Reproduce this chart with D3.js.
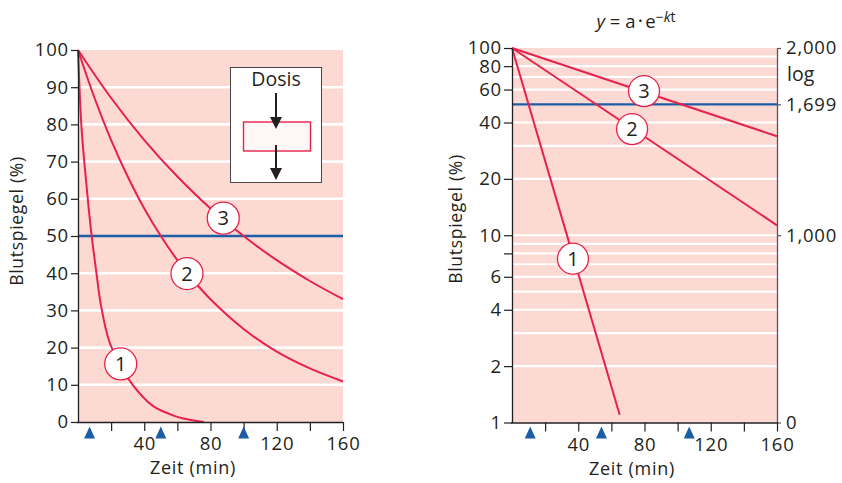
<!DOCTYPE html>
<html>
<head>
<meta charset="utf-8">
<script src="https://cdn.jsdelivr.net/npm/d3@7"></script>
<style>
  html, body { margin: 0; padding: 0; background: #ffffff; }
  svg text { font-family: "Open Sans", "Noto Sans", sans-serif; fill: #231f20; }
</style>
</head>
<body>
<script>
// ---- data ---------------------------------------------------------------
// time axis (minutes)
const timeTicks = [20, 40, 60, 80, 100, 120, 140, 160];
const timeLabels = [40, 80, 120, 160];

// linear panel: blood level (%) over time, three elimination curves
const linTicks = [0, 10, 20, 30, 40, 50, 60, 70, 80, 90, 100];
const linGrid = [10, 20, 30, 40, 60, 70, 80, 90];
const curve1 = [[0, 100], [2, 80], [4, 69], [6, 59.5], [8, 51], [11, 40.5], [14, 31], [19, 21.5], [26, 15], [33, 10], [45, 4.4], [55, 2.2], [63, 1.0], [76, 0]];
const curve2 = [[0, 100], [10, 87.1], [20, 75.8], [30, 66.0], [40, 57.4], [50, 50.0], [60, 43.5], [70, 37.9], [80, 33.0], [100, 25.0], [120, 18.9], [140, 14.4], [160, 10.9]];
const curve3 = [[0, 100], [20, 87.1], [40, 75.8], [60, 66.0], [80, 57.4], [100, 50.0], [120, 43.5], [140, 37.9], [160, 33.0]];
const linBadges = [{ n: "1", t: 25.8, v: 15.6 }, { n: "2", t: 65.8, v: 39.9 }, { n: "3", t: 87.7, v: 54.8 }];
const linHalfTimes = [7, 50, 100];

// logarithmic panel: same three curves on a log axis
const logTicks = [1, 2, 4, 6, 8, 10, 20, 40, 60, 80, 100];
const logTickLabels = ["1", "2", "4", "6", "", "10", "20", "40", "60", "80", "100"];
const logGrid = [2, 3, 4, 5, 6, 7, 8, 9, 10, 20, 30, 40, 60, 70, 80, 90];
const line1 = [[0, 100], [65, 1.1]];
const line2 = [[0, 100], [160, 11.3]];
const line3 = [[0, 100], [160, 33.8]];
const logBadges = [{ n: "1", t: 36.8, v: 7.5 }, { n: "2", t: 72.5, v: 36.9 }, { n: "3", t: 79.7, v: 58.9 }];
const logHalfTimes = [11, 54, 107];
const logAxisValues = [100, 50, 10, 1];
const logAxisLabels = ["2,000", "1,699", "1,000", "0"];

const halfLevel = 50;

// ---- style --------------------------------------------------------------
const PINK = "#fdd9d4";
const RED = "#e8214a";
const BLUE = "#1c5ea6";
const INK = "#231f20";
const TICK_FONT = 18.5;

const svg = d3.select("body").append("svg")
  .attr("width", 842).attr("height", 483);

function styleAxis(g, size) {
  g.selectAll("path.domain").attr("stroke", INK).attr("stroke-width", 1.3);
  g.selectAll(".tick line").attr("stroke", INK).attr("stroke-width", 1.2);
  g.selectAll(".tick text")
    .attr("font-size", size)
    .attr("letter-spacing", "0.8px")
    .style("fill", INK);
}

function badge(g, cx, cy, r, label) {
  g.append("circle").attr("cx", cx).attr("cy", cy).attr("r", r)
    .attr("fill", "#ffffff").attr("stroke", RED).attr("stroke-width", 1.3);
  g.append("text").attr("x", cx).attr("y", cy).attr("dy", "0.36em")
    .attr("text-anchor", "middle").attr("font-size", 20).text(label);
}

function halfMarks(g, xs, times) {
  g.selectAll("path.half").data(times).join("path")
    .attr("class", "half")
    .attr("fill", BLUE)
    .attr("d", t => {
      const cx = xs(t);
      return `M${cx - 5.5},438.5 L${cx},426.5 L${cx + 5.5},438.5 Z`;
    });
}

// ---- left panel: linear scale --------------------------------------------
{
  const x = d3.scaleLinear().domain([0, 160]).range([78, 343]);
  const y = d3.scaleLinear().domain([0, 100]).range([422, 50]);
  const g = svg.append("g");

  g.append("rect").attr("x", x(0)).attr("y", y(100))
    .attr("width", x(160) - x(0)).attr("height", y(0) - y(100)).attr("fill", PINK);

  g.selectAll("line.grid").data(linGrid).join("line")
    .attr("class", "grid")
    .attr("x1", x(0)).attr("x2", x(160))
    .attr("y1", d => y(d)).attr("y2", d => y(d))
    .attr("stroke", "#ffffff").attr("stroke-width", 2.6);

  g.append("line").attr("x1", x(0)).attr("x2", x(160))
    .attr("y1", y(halfLevel)).attr("y2", y(halfLevel))
    .attr("stroke", BLUE).attr("stroke-width", 2.4);

  const line = d3.line().x(d => x(d[0])).y(d => y(d[1])).curve(d3.curveCatmullRom.alpha(0.5));
  g.selectAll("path.curve").data([curve1, curve2, curve3]).join("path")
    .attr("class", "curve")
    .attr("d", line).attr("fill", "none")
    .attr("stroke", RED).attr("stroke-width", 2);

  linBadges.forEach(b => badge(g, x(b.t), y(b.v), 16, b.n));

  // dosing scheme inset
  const inset = g.append("g");
  inset.append("rect").attr("x", 230.5).attr("y", 67.5).attr("width", 91).attr("height", 115)
    .attr("fill", "#ffffff").attr("stroke", "#4a4546").attr("stroke-width", 1);
  inset.append("text").attr("x", 276).attr("y", 86).attr("text-anchor", "middle")
    .attr("font-size", 19.5).text("Dosis");
  inset.append("rect").attr("x", 243.5).attr("y", 122).attr("width", 67).attr("height", 29)
    .attr("fill", "#fff7f7").attr("stroke", RED).attr("stroke-width", 1.4);
  [[93, 129], [145, 180]].forEach(([a, b]) => {
    inset.append("line").attr("x1", 276).attr("x2", 276).attr("y1", a).attr("y2", b - 10)
      .attr("stroke", INK).attr("stroke-width", 2);
    inset.append("path").attr("d", `M270,${b - 12} L282,${b - 12} L276,${b} Z`).attr("fill", INK);
  });

  const ay = g.append("g").attr("transform", `translate(${x(0)},0)`)
    .call(d3.axisLeft(y).tickValues(linTicks).tickSize(7).tickPadding(2).tickSizeOuter(0));
  styleAxis(ay, TICK_FONT);

  const ax = g.append("g").attr("transform", `translate(0,${y(0)})`)
    .call(d3.axisBottom(x).tickValues(timeTicks).tickSize(9).tickPadding(6).tickSizeOuter(0)
      .tickFormat(d => timeLabels.includes(d) ? d : ""));
  styleAxis(ax, TICK_FONT);
  ax.select("path.domain").attr("d", `M${x(0) - 1},0.5H${x(160)}`);

  halfMarks(g, x, linHalfTimes);

  g.append("text").attr("transform", "translate(23,221) rotate(-90)")
    .attr("text-anchor", "middle").attr("font-size", 17.5).attr("letter-spacing", "0.7px")
    .text("Blutspiegel (%)");
  g.append("text").attr("x", 193).attr("y", 474).attr("text-anchor", "middle")
    .attr("font-size", 18).attr("letter-spacing", "0.7px").text("Zeit (min)");
}

// ---- right panel: logarithmic scale --------------------------------------
{
  const x = d3.scaleLinear().domain([0, 160]).range([512, 777]);
  const y = d3.scaleLog().domain([1, 100]).range([422.5, 48]);
  const g = svg.append("g");

  g.append("rect").attr("x", x(0)).attr("y", y(100))
    .attr("width", x(160) - x(0)).attr("height", y(1) - y(100)).attr("fill", PINK);

  g.selectAll("line.grid").data(logGrid).join("line")
    .attr("class", "grid")
    .attr("x1", x(0)).attr("x2", x(160))
    .attr("y1", d => y(d)).attr("y2", d => y(d))
    .attr("stroke", "#ffffff").attr("stroke-width", 2.2);

  g.append("line").attr("x1", x(0)).attr("x2", x(160))
    .attr("y1", y(halfLevel)).attr("y2", y(halfLevel))
    .attr("stroke", BLUE).attr("stroke-width", 2.4);

  const line = d3.line().x(d => x(d[0])).y(d => y(d[1]));
  g.selectAll("path.curve").data([line1, line2, line3]).join("path")
    .attr("class", "curve")
    .attr("d", line).attr("fill", "none")
    .attr("stroke", RED).attr("stroke-width", 2);

  logBadges.forEach(b => badge(g, x(b.t), y(b.v), 15.5, b.n));

  const ay = g.append("g").attr("transform", `translate(${x(0)},0)`)
    .call(d3.axisLeft(y).tickValues(logTicks).tickSize(8).tickPadding(2).tickSizeOuter(0)
      .tickFormat((d, i) => logTickLabels[i]));
  styleAxis(ay, TICK_FONT);

  const ar = g.append("g").attr("transform", `translate(${x(160)},0)`)
    .call(d3.axisRight(y).tickValues(logAxisValues).tickSize(4).tickPadding(5).tickSizeOuter(0)
      .tickFormat((d, i) => logAxisLabels[i]));
  styleAxis(ar, TICK_FONT);
  ar.selectAll("path.domain, .tick line").attr("stroke", "#5a5452");

  g.append("text").attr("x", 787).attr("y", 81).attr("font-size", 19.5).text("log");

  const ax = g.append("g").attr("transform", `translate(0,${y(1)})`)
    .call(d3.axisBottom(x).tickValues(timeTicks).tickSize(9).tickPadding(6).tickSizeOuter(0)
      .tickFormat(d => timeLabels.includes(d) ? d : ""));
  styleAxis(ax, TICK_FONT);
  ax.select("path.domain").attr("d", `M${x(0) - 1},0.5H${x(160)}`);

  halfMarks(g, x, logHalfTimes);

  g.append("text").attr("transform", "translate(462,219) rotate(-90)")
    .attr("text-anchor", "middle").attr("font-size", 17.5).attr("letter-spacing", "0.7px")
    .text("Blutspiegel (%)");
  g.append("text").attr("x", 632).attr("y", 475).attr("text-anchor", "middle")
    .attr("font-size", 18).attr("letter-spacing", "0.7px").text("Zeit (min)");

  // rate law heading
  const title = g.append("text").attr("x", 636).attr("y", 28).attr("text-anchor", "middle")
    .attr("font-size", 18.5);
  title.append("tspan").attr("font-style", "italic").text("y");
  title.append("tspan").text(" = a");
  title.append("tspan").attr("font-size", 11).attr("dy", -3).text(" • ");
  title.append("tspan").attr("dy", 3).text("e");
  title.append("tspan").attr("font-size", 14).attr("dy", -6).text("−");
  title.append("tspan").attr("font-size", 14).attr("font-style", "italic").text("k");
  title.append("tspan").attr("font-size", 14).text("t");
}
</script>
</body>
</html>
